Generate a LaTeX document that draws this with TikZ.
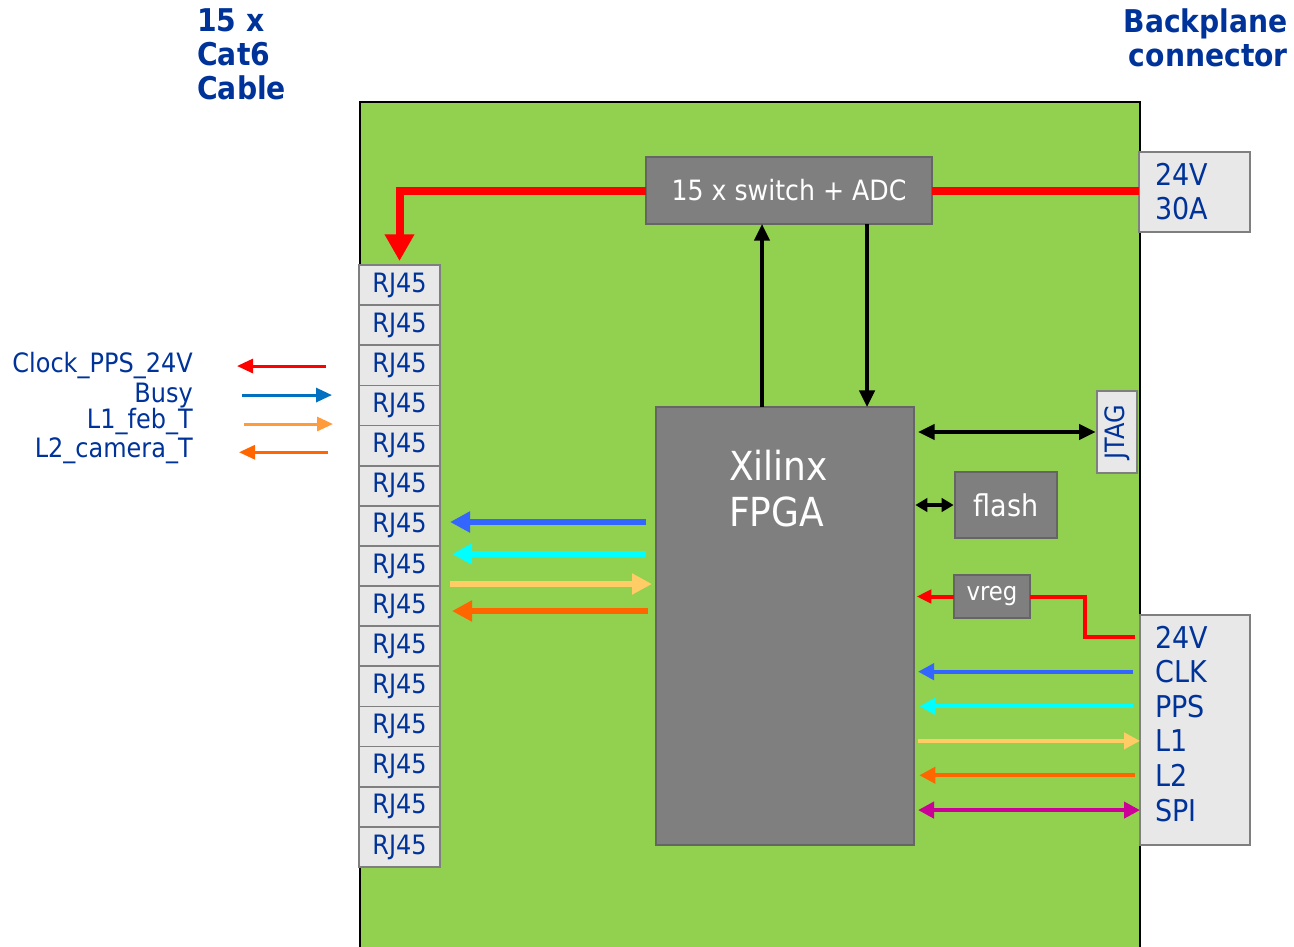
\documentclass[tikz,border=0pt]{standalone}
\usepackage{fontspec}
\setmainfont[FakeStretch=0.9]{DejaVu Sans}
\usetikzlibrary{arrows.meta,positioning,calc}
\definecolor{boardgreen}{HTML}{92D050}
\definecolor{chipgray}{HTML}{7F7F7F}
\definecolor{chipedge}{HTML}{656565}
\definecolor{portgray}{HTML}{E8E8E8}
\definecolor{portedge}{HTML}{7F7F7F}
\definecolor{textblue}{HTML}{003399}
\definecolor{sigred}{HTML}{FF0000}
\definecolor{busyblue}{HTML}{0070C0}
\definecolor{febgold}{HTML}{FF9B3B}
\definecolor{camorange}{HTML}{FF6600}
\definecolor{clkblue}{HTML}{3366FF}
\definecolor{ppscyan}{HTML}{00FFFF}
\definecolor{trigyellow}{HTML}{FFCC66}
\definecolor{spimagenta}{HTML}{CC0099}
\tikzset{
  board/.style={draw=black, fill=boardgreen, line width=1.5pt},
  chip/.style={
    draw=chipedge,
    fill=chipgray,
    line width=1.5pt,
    text=white,
    inner sep=0pt,
    outer sep=0pt
  },
  port/.style={
    draw=portedge,
    fill=portgray,
    line width=1.3pt,
    text=textblue,
    inner sep=0pt,
    outer sep=0pt
  },
  rj/.style={port, minimum width=60.75pt, minimum height=30.1pt,
    font=\fontsize{20}{24}\selectfont},
  heading/.style={text=textblue, inner sep=0pt,
    font=\fontsize{23.5}{25.5}\selectfont\bfseries},
  legend/.style={text=textblue, inner sep=0pt, font=\fontsize{20}{24}\selectfont},
  pinlabel/.style={text=textblue, inner sep=0pt, font=\fontsize{22.5}{26}\selectfont},
  power/.style={draw=sigred, line width=6pt},
  powerthin/.style={draw=sigred, line width=3pt},
  thickarrow/.style={line width=5pt, -{Triangle[length=15pt,width=15pt]}},
  pinarrow/.style={line width=3pt, -{Triangle[length=12pt,width=12pt]}},
  keyarrow/.style={line width=2.25pt, -{Triangle[length=12pt,width=10.5pt]}},
  ctrl/.style={draw=black, line width=2.6pt, -{Triangle[length=12.5pt,width=11.5pt]}}
}

\begin{document}
\begin{tikzpicture}[x=0.75pt, y=-0.75pt]
  \useasboundingbox (0,0) rectangle (1294,946);

  % board outline
  \draw[board] (360,102) rectangle (1140,960);

  % headings
  \node[heading, anchor=north west, align=left] (cablehead) at (197,8) {15 x\\Cat6\\Cable};
  \node[heading, anchor=north east, align=right] (bphead) at (1288,8) {Backplane\\connector};

  % blocks
  \node[chip, minimum width=214.5pt, minimum height=50.25pt,
        font=\fontsize{21}{24}\selectfont] (switch) at (789,190.5) {15 x switch + ADC};
  \node[chip, minimum width=193.5pt, minimum height=328.5pt] (fpga) at (785,626) {};
  \node[text=white, inner sep=0pt, align=left, anchor=west,
        font=\fontsize{30}{34.5}\selectfont] (fpgalbl) at (729,489) {Xilinx\\FPGA};
  \node[chip, minimum width=76.5pt, minimum height=49.5pt,
        font=\fontsize{22.5}{26}\selectfont] (flash) at (1006,505) {flash};
  \node[chip, minimum width=57pt, minimum height=32.25pt,
        font=\fontsize{19}{22}\selectfont] (vreg) at (992,596.5) {vreg};

  % connectors on the board edge
  \node[port, anchor=west, align=left, text width=59.25pt, inner xsep=12pt,
        minimum height=60pt, font=\fontsize{22.5}{25.5}\selectfont] (pwr) at (1139,192) {24V\\30A};
  \node[port, rotate=90, minimum width=61.5pt, minimum height=30pt,
        font=\fontsize{20}{24}\selectfont] (jtag) at (1117,432) {JTAG};
  \node[port, minimum width=82.5pt, minimum height=172.5pt] (bus) at (1195,730) {};
  \foreach \t [count=\k] in {24V,CLK,PPS,L1,L2,SPI}
    \node[pinlabel, anchor=base west] (bl\k) at (1155,{648+34.6*(\k-1)}) {\t};

  % 15 RJ45 sockets
  \node[rj] (rj1) at (399.5,285.07) {RJ45};
  \foreach \k [remember=\k as \prev (initially 1)] in {2,...,15}
    \node[rj, below=0pt of rj\prev] (rj\k) {RJ45};

  % cable legend
  \node[legend, anchor=base east] (kclk) at (193,372) {Clock\_PPS\_24V};
  \node[legend, anchor=base east] (kbusy) at (193,402) {Busy};
  \node[legend, anchor=base east] (kfeb) at (193,428) {L1\_feb\_T};
  \node[legend, anchor=base east] (kcam) at (193,457) {L2\_camera\_T};
  \coordinate (kin) at (240,0);
  \coordinate (kout) at (330,0);
  \draw[keyarrow, sigred] ($(kout |- kclk)+(-4,1)$) -- ($(kin |- kclk)+(-3,1)$);
  \draw[keyarrow, busyblue] ($(kin |- kbusy)+(2,0)$) -- ($(kout |- kbusy)+(2,0)$);
  \draw[keyarrow, febgold] ($(kin |- kfeb)+(4,3)$) -- ($(kout |- kfeb)+(3,3)$);
  \draw[keyarrow, camorange] ($(kout |- kcam)+(-2,2)$) -- ($(kin |- kcam)+(-1,2)$);

  % power
  \draw[power] (pwr.west |- switch.east) -- (switch.east);
  \draw[power, -{Triangle[length=20pt,width=21pt]}, shorten >=3pt]
    (switch.west) -| (rj1.north);
  \coordinate (vbend) at (1085,0);
  \draw[powerthin, shorten >=4pt] (vreg.east) -- (vreg.east -| vbend) |- (bl1 -| bus.west);
  \draw[powerthin, -{Triangle[length=11pt,width=10pt]}, shorten >=2pt]
    (vreg.west) -- (vreg.west -| fpga.east);

  % switch control and readback
  \coordinate (cmd) at (762,0);
  \coordinate (mon) at (867,0);
  \draw[ctrl] (fpga.north -| cmd) -- (switch.south -| cmd);
  \draw[ctrl] (switch.south -| mon) -- (fpga.north -| mon);
  \draw[ctrl, {Triangle[length=12.5pt,width=11.5pt]}-{Triangle[length=12.5pt,width=11.5pt]},
        shorten <=3pt, shorten >=1pt] (fpga.east |- jtag) -- (jtag.north);
  \draw[ctrl, {Triangle[length=9pt,width=10pt]}-{Triangle[length=9pt,width=10pt]},
        shorten <=1pt, shorten >=1pt] (fpga.east |- flash) -- (flash.west);

  % cable signals
  \coordinate (yclk) at (0,522);
  \coordinate (ypps) at (0,554);
  \coordinate (yl1) at (0,584);
  \coordinate (yl2) at (0,611);
  \draw[thickarrow, clkblue, shorten <=7.5pt, shorten >=7.5pt] (fpga.west |- yclk) -- (rj7.east |- yclk);
  \draw[thickarrow, ppscyan, shorten <=7.5pt, shorten >=9pt] (fpga.west |- ypps) -- (rj8.east |- ypps);
  \draw[thickarrow, trigyellow, shorten <=7.5pt, shorten >=3pt] (rj9.east |- yl1) -- (fpga.west |- yl1);
  \draw[thickarrow, camorange, shorten <=6pt, shorten >=9pt] (fpga.west |- yl2) -- (rj9.east |- yl2);

  % backplane signals
  \draw[pinarrow, clkblue, shorten <=5pt, shorten >=3pt] (bl2 -| bus.west) -- (bl2 -| fpga.east);
  \draw[pinarrow, ppscyan, shorten <=5pt, shorten >=4pt] (bl3 -| bus.west) -- (bl3 -| fpga.east);
  \draw[pinarrow, trigyellow, shorten <=3pt] (bl4 -| fpga.east) -- (bl4 -| bus.west);
  \draw[pinarrow, camorange, shorten <=4pt, shorten >=4pt] (bl5 -| bus.west) -- (bl5 -| fpga.east);
  \draw[pinarrow, spimagenta, {Triangle[length=12pt,width=12pt]}-{Triangle[length=12pt,width=12pt]},
        shorten <=3pt] (bl6 -| fpga.east) -- (bl6 -| bus.west);
\end{tikzpicture}
\end{document}
